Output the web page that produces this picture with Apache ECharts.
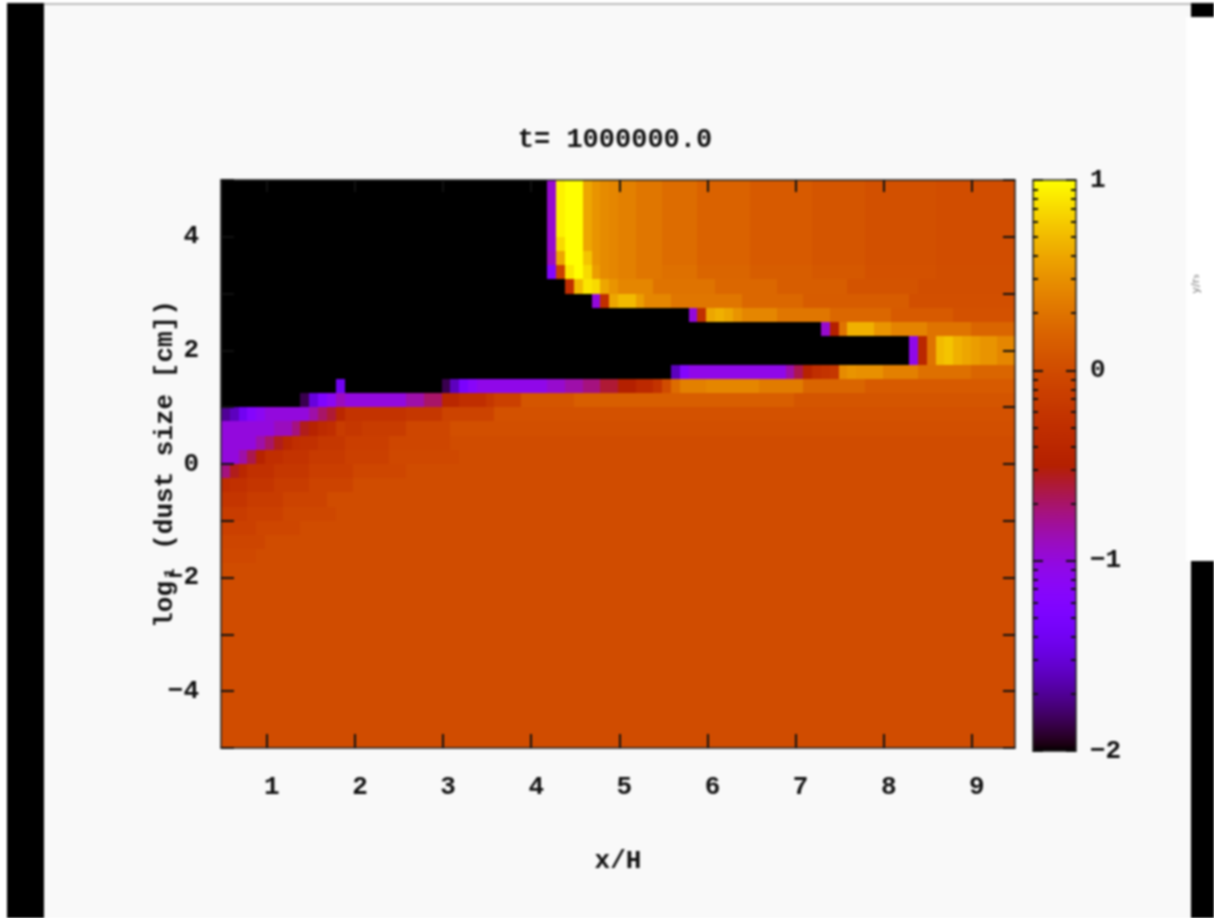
<!DOCTYPE html>
<html>
<head>
<meta charset="utf-8">
<style>
html,body{margin:0;padding:0;background:#fff;overflow:hidden}
#chart{width:1214px;height:918px;filter:blur(0.9px)}
</style>
<script src="https://cdn.jsdelivr.net/npm/echarts@6/dist/echarts.min.js"></script>
</head>
<body>
<div id="chart"></div>
<script>
// Values: log10 ratio per cell, run-length coded as [value, count], top row first.
const titleText = 't= 1000000.0';
const xName = 'x/H';
const yName = 'log₁ (dust size [cm])';
const xTicks = [1,2,3,4,5,6,7,8,9];
const yLabels = [-4,-2,0,2,4];
const cbMajor = [-2,-1,0,1];
const cbMinor = [-1.7,-1.52,-1.4,-1.3,-1.22,-1.15,-1.1,-1.05,-0.7,-0.52,-0.4,-0.3,-0.22,-0.15,-0.1,-0.05,0.3,0.48,0.6,0.7,0.78,0.85,0.9,0.95];
const row00 = [[-2,37],[-.95,1],[.95,1],[1,2],[.6,1],[.5,1],[.45,1],[.42,1],[.38,2],[.32,3],[.25,4],[.18,6],[.12,7],[.08,6],[.04,8],[.01,9]];
const row04 = [[-2,37],[-.95,1],[.85,1],[1,2],[.6,1],[.5,1],[.45,1],[.42,1],[.38,2],[.32,3],[.25,4],[.18,6],[.12,7],[.08,6],[.04,8],[.01,9]];
const row05 = [[-2,37],[-.9,1],[.6,1],[1,2],[.75,1],[.5,1],[.45,1],[.42,1],[.38,2],[.32,3],[.25,4],[.18,6],[.12,7],[.08,6],[.04,8],[.01,9]];
const row06 = [[-2,37],[-1.2,1],[-.1,1],[.9,1],[1,1],[.85,1],[.55,1],[.45,1],[.42,1],[.38,2],[.32,3],[.28,4],[.2,6],[.14,7],[.1,6],[.05,8],[.02,9]];
const row07 = [[-2,39],[-.3,1],[.7,1],[.9,1],[.85,1],[.6,1],[.5,1],[.42,4],[.3,7],[.22,7],[.14,8],[.06,8],[.02,11]];
const row08 = [[-2,42],[-1,1],[-.3,1],[.6,1],[.7,2],[.55,1],[.42,3],[.32,8],[.22,7],[.13,12],[.03,12]];
const row09 = [[-2,53],[-1,1],[-.3,1],[.6,1],[.65,1],[.6,1],[.5,1],[.42,4],[.32,6],[.22,7],[.12,7],[.05,7]];
const row10 = [[-2,68],[-.95,1],[-.5,1],[.3,1],[.65,3],[.5,2],[.4,4],[.3,5],[.2,5]];
const row11 = [[-2,78],[-1.05,1],[-.4,1],[.3,1],[.7,1],[.75,1],[.65,1],[.6,1],[.55,1],[.5,2],[.42,2]];
const row13 = [[-2,51],[-1.6,1],[-1.2,1],[-1.05,11],[-.85,1],[-.65,1],[-.45,1],[-.3,1],[-.25,1],[-.2,1],[.45,1],[.5,1],[.48,3],[.38,4],[.28,6],[.2,5]];
const row14 = [[-2,13],[-1.4,1],[-2,11],[-1.85,1],[-1.6,1],[-1.3,1],[-1.15,1],[-1.05,8],[-.95,2],[-.85,2],[-.75,2],[-.6,2],[-.5,2],[-.38,2],[-.25,1],[0,1],[.25,1],[.38,3],[.42,6],[.35,5],[.2,7],[.12,17]];
const row15 = [[-2,9],[-1.85,1],[-1.5,1],[-1.25,1],[-1.1,1],[-.9,1],[-1,7],[-.85,2],[-.7,2],[-.4,2],[-.3,3],[-.2,1],[-.1,3],[.08,6],[.15,25],[.08,25]];
const row16 = [[-1.7,1],[-1.6,1],[-1.4,1],[-1.2,1],[-1.1,1],[-1,5],[-.85,1],[-.7,1],[-.6,1],[-.4,1],[-.25,7],[-.2,4],[-.08,6],[.05,59]];
const row17 = [[-1,6],[-.9,2],[-.75,1],[-.55,1],[-.45,1],[-.35,1],[-.3,1],[-.15,1],[-.2,2],[-.15,5],[-.05,5],[.03,64]];
const row18 = [[-1,4],[-.85,1],[-.7,1],[-.55,1],[-.4,1],[-.3,1],[-.28,2],[-.2,3],[-.12,5],[-.05,7],[0,64]];
const row19 = [[-1,2],[-.85,1],[-.65,1],[-.45,1],[-.3,2],[-.25,3],[-.17,4],[-.1,5],[-.03,8],[0,63]];
const row20 = [[-.75,1],[-.55,1],[-.4,1],[-.28,3],[-.2,4],[-.12,5],[-.05,6],[0,69]];
const row21 = [[-.32,1],[-.28,2],[-.22,3],[-.15,4],[-.08,5],[0,75]];
const row22 = [[-.22,3],[-.15,4],[-.08,5],[0,78]];
const row23 = [[-.15,3],[-.1,4],[-.04,6],[0,77]];
const row24 = [[-.1,4],[-.05,5],[0,81]];
const row25 = [[-.06,5],[0,85]];
const row26 = [[-.03,4],[0,86]];
const rowFlat = [[0,90]];
const rowsTopDown = [row00,row00,row00,row00,row04,row05,row06,row07,row08,row09,row10,row11,row11,row13,row14,row15,row16,row17,row18,row19,row20,row21,row22,row23,row24,row25,row26,
  rowFlat,rowFlat,rowFlat,rowFlat,rowFlat,rowFlat,rowFlat,rowFlat,rowFlat,rowFlat,rowFlat,rowFlat,rowFlat];

const xMin = 0.48, xMax = 9.49, yMin = -5, yMax = 5;
const dx = (xMax - xMin) / 90, dy = 0.25;

const cells = [];
rowsTopDown.forEach((row, r) => {
  let c = 0;
  row.forEach(([v, n]) => {
    for (let i = 0; i < n; i++, c++) {
      cells.push([xMin + (c + 0.5) * dx, yMax - (r + 0.5) * dy, v]);
    }
  });
});

// gnuplot default palette (rgbformulae 7,5,15)
const palette = [];
for (let i = 0; i <= 96; i++) {
  const t = i / 96;
  const R = Math.round(255 * Math.sqrt(t));
  const G = Math.round(255 * t * t * t);
  const B = Math.round(255 * Math.max(0, Math.sin(2 * Math.PI * t)));
  palette.push(`rgb(${R},${G},${B})`);
}

const FONT = '"Liberation Mono"';
const INK = '#111';
const label = {fontFamily: FONT, fontWeight: 'bold', fontSize: 26, color: INK};
const minus = v => String(v).replace('-', '−');

function renderCell(params, api) {
  const x = api.value(0), y = api.value(1);
  const a = api.coord([x - dx / 2, y + dy / 2]);
  const b = api.coord([x + dx / 2, y - dy / 2]);
  const x0 = Math.round(a[0]), y0 = Math.round(a[1]);
  const x1 = Math.round(b[0]), y1 = Math.round(b[1]);
  return {
    type: 'rect',
    shape: {x: x0, y: y0, width: x1 - x0, height: y1 - y0},
    style: {fill: api.visual('color')}
  };
}

const blank = {axisLabel: {show: false}, axisTick: {show: false}, splitLine: {show: false}};
const line = {show: true, onZero: false, lineStyle: {color: '#222', width: 1.5}};
const noLine = {show: false, onZero: false};
const tickStyle = {color: '#111', width: 2};

const chart = echarts.init(document.getElementById('chart'), null, {renderer: 'canvas'});
chart.setOption({
  animation: false,
  backgroundColor: '#ffffff',
  title: {
    text: titleText, left: 610, top: 122, textAlign: 'center',
    textStyle: {...label, fontSize: 27}
  },
  graphic: [
    {type: 'rect', z: -5, shape: {x: 7, y: 3, width: 1184, height: 915}, style: {fill: '#f9f9f9'}},
    {type: 'rect', z: -4, shape: {x: 44, y: 3, width: 1147, height: 2}, style: {fill: '#bcbcbc'}},
    {type: 'rect', z: -4, shape: {x: 7, y: 3, width: 37, height: 915}, style: {fill: '#000'}},
    {type: 'rect', z: -4, shape: {x: 1191, y: 3, width: 23, height: 14}, style: {fill: '#000'}},
    {type: 'rect', z: -4, shape: {x: 1191, y: 561, width: 23, height: 357}, style: {fill: '#000'}},
    {type: 'rect', z: -4, shape: {x: 1186, y: 17, width: 28, height: 544}, style: {fill: '#fff'}},
    {type: 'text', z: -3, x: 1196, y: 284, rotation: Math.PI / 2, style: {text: 'y/r₉', fill: '#777', font: '11px "DejaVu Sans"', align: 'center', verticalAlign: 'middle'}}
  ],
  visualMap: {
    type: 'continuous', show: true, min: -2, max: 1, dimension: 2, seriesIndex: 0,
    calculable: false, showLabel: false, text: null, padding: 0, z: 1,
    left: 1033, top: 180, itemWidth: 43, itemHeight: 571,
    inRange: {color: palette}
  },
  grid: [
    {left: 221, top: 180, width: 794, height: 568},
    {left: 1033, top: 180, width: 43, height: 571},
    {left: 1033, top: 180, width: 43, height: 571}
  ],
  xAxis: [
    {type: 'value', gridIndex: 0, min: xMin, max: xMax, position: 'bottom', z: 10,
     name: xName, nameLocation: 'middle', nameGap: 100, nameTextStyle: {...label},
     axisLine: line, splitLine: {show: false},
     axisTick: {inside: true, length: 14, customValues: xTicks, lineStyle: tickStyle},
     axisLabel: {...label, margin: 26, customValues: xTicks, padding: [0, 0, 0, 10]}},
    {type: 'value', gridIndex: 0, min: xMin, max: xMax, position: 'top', z: 10,
     axisLine: line, splitLine: {show: false}, axisLabel: {show: false},
     axisTick: {inside: true, length: 12, customValues: xTicks, lineStyle: tickStyle}},
    {type: 'value', gridIndex: 1, min: 0, max: 1, position: 'bottom', z: 10, axisLine: line, ...blank},
    {type: 'value', gridIndex: 1, min: 0, max: 1, position: 'top', z: 10, axisLine: line, ...blank},
    {type: 'value', gridIndex: 2, min: 0, max: 1, position: 'bottom', z: 10, axisLine: noLine, ...blank}
  ],
  yAxis: [
    {type: 'value', gridIndex: 0, min: yMin, max: yMax, interval: 1, position: 'left', z: 10,
     name: yName, nameLocation: 'middle', nameGap: 43, nameRotate: 90, nameMoveOverlap: false, nameTextStyle: {...label},
     axisLine: line, splitLine: {show: false},
     axisTick: {inside: true, length: 13, lineStyle: tickStyle},
     axisLabel: {...label, margin: 22, customValues: yLabels, formatter: minus}},
    {type: 'value', gridIndex: 0, min: yMin, max: yMax, interval: 1, position: 'right', z: 10,
     axisLine: line, splitLine: {show: false}, axisLabel: {show: false},
     axisTick: {inside: true, length: 12, lineStyle: tickStyle}},
    {type: 'value', gridIndex: 1, min: -2, max: 1, position: 'right', z: 10, axisLine: line, splitLine: {show: false},
     axisTick: {inside: true, length: 10, customValues: cbMajor, lineStyle: tickStyle},
     axisLabel: {...label, margin: 14, customValues: cbMajor, padding: [6, 0, 0, 0], formatter: minus}},
    {type: 'value', gridIndex: 1, min: -2, max: 1, position: 'left', z: 10, axisLine: line, splitLine: {show: false},
     axisLabel: {show: false},
     axisTick: {inside: true, length: 10, customValues: cbMajor, lineStyle: tickStyle}},
    {type: 'value', gridIndex: 2, min: -2, max: 1, position: 'right', z: 10, axisLine: noLine, splitLine: {show: false},
     axisLabel: {show: false},
     axisTick: {inside: true, length: 5, customValues: cbMinor, lineStyle: tickStyle}},
    {type: 'value', gridIndex: 2, min: -2, max: 1, position: 'left', z: 10, axisLine: noLine, splitLine: {show: false},
     axisLabel: {show: false},
     axisTick: {inside: true, length: 5, customValues: cbMinor, lineStyle: tickStyle}}
  ],
  series: [{
    type: 'custom', xAxisIndex: 0, yAxisIndex: 0, coordinateSystem: 'cartesian2d',
    renderItem: renderCell, data: cells, encode: {x: 0, y: 1}, silent: true, progressive: 0, clip: true
  }]
});
</script>
</body>
</html>
